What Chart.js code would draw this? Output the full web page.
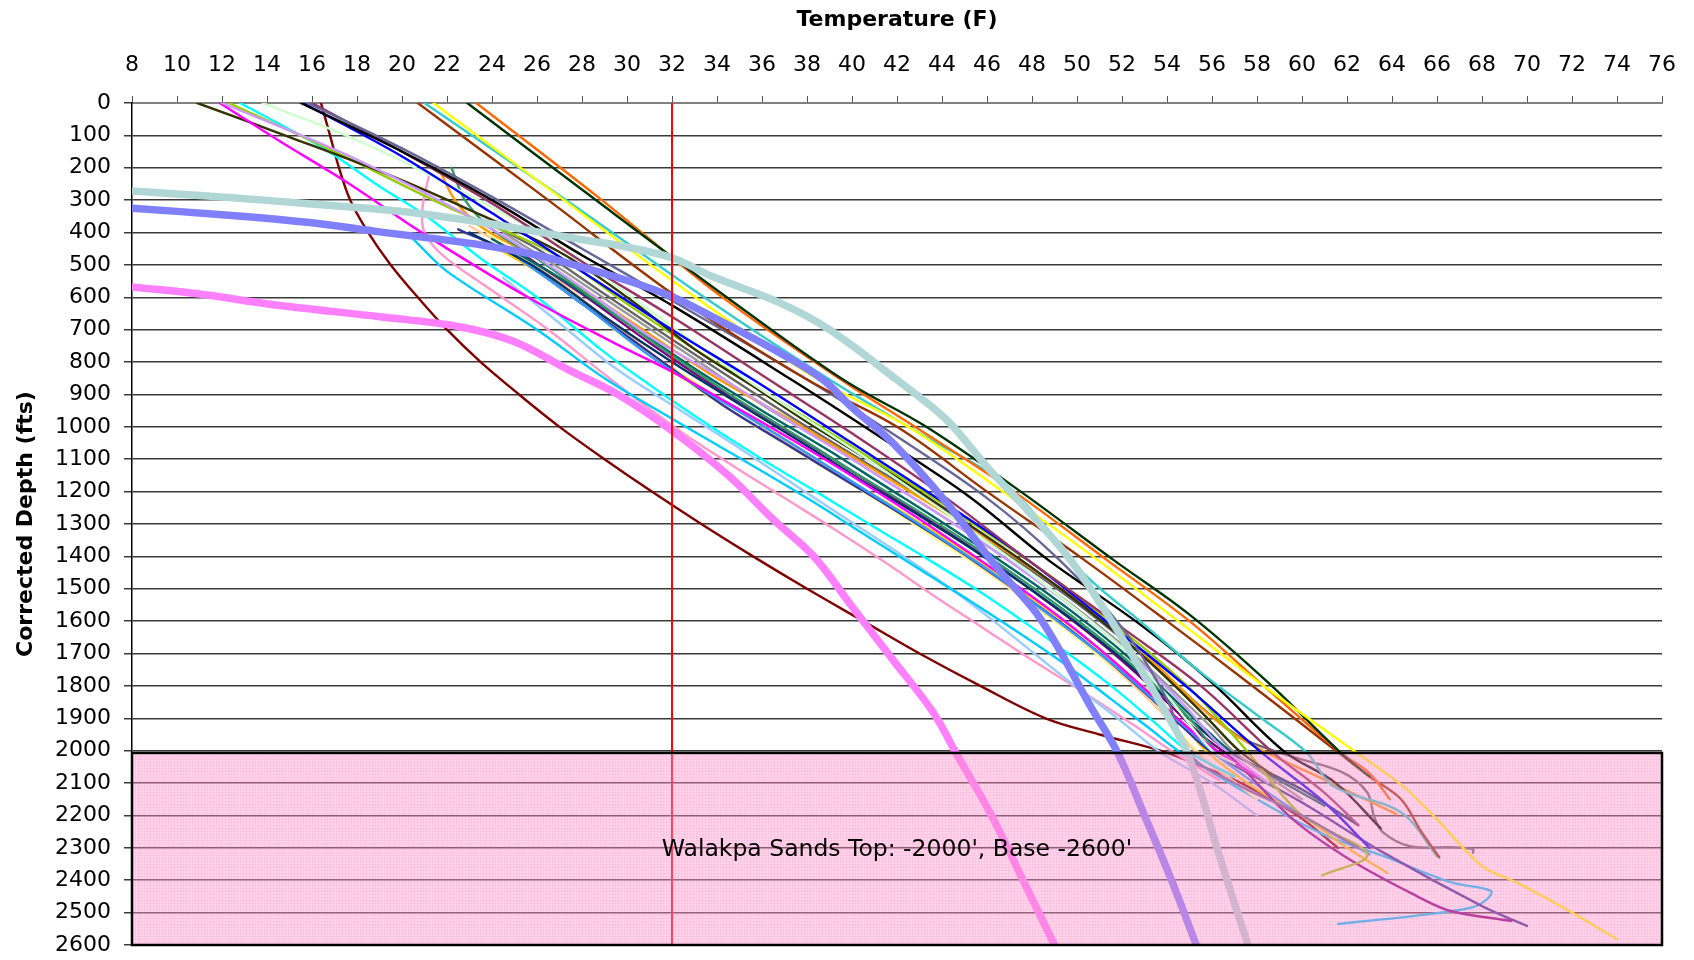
<!DOCTYPE html>
<html>
<head>
<meta charset="utf-8">
<script src="https://cdn.jsdelivr.net/npm/chart.js@4.4.1/dist/chart.umd.min.js"></script>
<style>
html,body{margin:0;padding:0;background:#ffffff;}
#wrap{width:1694px;height:960px;}
</style>
</head>
<body>
<div id="wrap"><canvas id="c" width="1694" height="960"></canvas></div>
<script>
// ---------------- DATA (temperature F, corrected depth ft) ----------------
const tempTicks  = [8,10,12,14,16,18,20,22,24,26,28,30,32,34,36,38,40,42,44,46,48,50,52,54,56,58,60,62,64,66,68,70,72,74,76];
const depthTicks = [0,100,200,300,400,500,600,700,800,900,1000,1100,1200,1300,1400,1500,1600,1700,1800,1900,2000,2100,2200,2300,2400,2500,2600];

const xTitle = 'Temperature (F)';
const yTitle = 'Corrected Depth (fts)';
const sandLabel = "Walakpa Sands Top: -2000', Base -2600'";
const walakpaZone = [2007, 2600];       // depth top / base of shaded sands
const sandLabelAt = [42, 2305];         // temp, depth of the label
const freezingLine = [[32,0],[32,2600]];

// thick logs
const tealThick = [[8,272],[12,290],[16,312],[20,335],[23.5,368],[26.6,405],[28,422],[30,445],[32,478],[33.8,536],[36.8,617],[39,700],[42,855],[44.2,978],[46.1,1132],[47.9,1265],[49.7,1410],[51.4,1585],[53.1,1780],[54.3,1925],[54.9,2005],[55.6,2150],[56.2,2295],[56.9,2450],[57.6,2600]];
const periwinkleThick = [[8,325],[12,345],[16,370],[19,398],[23.5,438],[26,470],[27.9,505],[30,548],[32,598],[33.8,660],[36.8,772],[38.7,854],[40,940],[41.8,1049],[44.2,1234],[46.4,1431],[48.4,1595],[50.6,1863],[51.8,2005],[53,2200],[54.2,2400],[55.3,2600]];
const pinkThick = [[8,568],[11,590],[14.2,622],[19,660],[22.5,690],[25,737],[27.4,824],[29.6,900],[32,1012],[34.5,1150],[36.5,1286],[38.3,1400],[40,1555],[41.8,1718],[43.6,1881],[44.7,2017],[46.2,2200],[47.6,2400],[49,2600]];

// thin logs
const darkRed = [[16.4,0],[16.8,100],[17.2,200],[17.7,300],[18.5,400],[19.5,500],[20.7,600],[22,700],[23.5,800],[25.2,900],[27,1000],[29,1100],[31.1,1200],[33.3,1300],[35.6,1400],[38,1500],[40.5,1600],[43,1700],[45.7,1800],[48.6,1900],[51,1950],[53.7,2000],[55.6,2050],[57.3,2100],[59.8,2200],[61.6,2300]];
const darkOlive = [[10.9,0],[15,105],[19.2,216],[23,330],[27,460],[30,600],[33,760],[35.5,870],[38,985],[40.7,1100],[43.3,1215],[45.8,1330],[48.2,1445],[50.4,1560],[52.4,1675],[54.2,1790],[55.8,1900],[57.2,2000],[58.8,2080]];
const magenta = [[11.9,0],[14.5,115],[17.6,247],[20.9,401],[25.6,600],[29.4,740],[32,830],[36.8,1018],[39.5,1130],[42,1240],[44.4,1350],[46.7,1460],[48.9,1570],[50.9,1680],[52.7,1790],[54.3,1890],[56,1990],[58,2080]];
const lavender = [[12,0],[18,175],[24,390],[28,570],[31,720],[34.3,854],[37.4,990],[40,1100],[42.5,1210],[45,1320],[47.3,1430],[49.5,1540],[51.5,1650],[53.3,1760],[54.9,1870],[56.3,1980],[58.5,2100]];
const oliveGreen = [[12.3,0],[17,150],[22,320],[26.6,460],[30,620],[33,760],[36.5,910],[39.3,1030],[41.8,1140],[44.3,1250],[46.7,1360],[49,1470],[51.1,1580],[53.1,1690],[54.9,1800],[56.4,1910],[57.6,2005],[60,2200],[62.9,2320],[60.9,2385]];
const cyan = [[12.8,0],[16.5,140],[19,258],[21,345],[23.5,480],[26,600],[29,770],[31,870],[33.3,980],[36,1100],[38.4,1200],[41,1310],[43.4,1410],[45.7,1510],[47.8,1610],[49.8,1710],[51.7,1810],[53.4,1910],[55,2005],[57,2080]];
const lightGreen = [[13.8,0],[18,115],[22,250],[27,440],[31,640],[35.3,854],[38.5,1000],[40.7,1100],[42.8,1200],[44.9,1300],[46.9,1400],[48.8,1500],[50.6,1600],[52.3,1700],[54,1830],[56,2000],[57,2040]];
const blue = [[15.6,0],[20,165],[24,340],[28,520],[32,700],[35.6,854],[40,1050],[44,1230],[47.8,1410],[52,1640],[55,1810],[58.1,2000],[61,2160],[63,2300]];
const black = [[15.5,0],[20,150],[24,300],[28,470],[32,625],[37.3,854],[41,1020],[45.2,1215],[48.7,1410],[52.8,1610],[56,1790],[59.2,2002],[61.5,2100],[63.5,2240]];
const grayBlue = [[15.8,0],[20,140],[24,290],[28,450],[32,610],[38,854],[42,1030],[46,1220],[49.2,1410],[52,1620],[54,1841],[55,2010],[57,2100],[60,2200],[62.5,2300]];
const maroon = [[16,0],[20,150],[24,310],[28,490],[32,660],[36.3,854],[40,1020],[44,1210],[47.8,1410],[52,1620],[55.5,1800],[58.7,2005],[61,2130],[62.5,2230]];
const pinkThin = [[21.2,222],[20.9,330],[21,400],[21.8,470],[23.6,560],[26.5,700],[29.4,860],[32.4,1015],[34.7,1120],[37,1220],[39.3,1320],[41.5,1420],[43.6,1520],[45.8,1620],[48,1720],[50.3,1820],[52.5,1920],[54.3,2005],[56.3,2090]];
const lightBlue = [[24.5,540],[27,680],[29.5,820],[32.4,950],[35.2,1075],[37.9,1200],[40.1,1300],[42.3,1400],[44.4,1500],[46.3,1600],[48.1,1700],[49.9,1800],[51.8,1900],[53.7,2005],[56,2100],[58,2200]];
const deepSky = [[20.5,420],[22,520],[26,700],[29,850],[32,975],[34.6,1080],[38,1220],[40.5,1330],[43,1440],[45.3,1540],[47.5,1640],[49.6,1740],[51.5,1840],[53.2,1930],[54.6,2005],[58,2150],[61,2260],[63.6,2325],[66.6,2406],[68.4,2433],[68.2,2460],[67.5,2485],[65,2510],[61.6,2535]];
const lightYellow = [[22.5,330],[24,410],[27,560],[30,730],[33.5,900],[36,1010],[38.6,1120],[41.2,1230],[43.6,1340],[46,1450],[48.2,1560],[50.3,1670],[52.2,1780],[53.9,1890],[55.4,2005],[58,2150]];
const peach = [[23,380],[26,500],[29,660],[32,820],[34,910],[36.5,1020],[39,1130],[41.5,1240],[44,1350],[46.3,1460],[48.5,1570],[50.6,1680],[52.4,1790],[54,1900],[55.3,2005],[57,2100]];
const navy = [[22.5,390],[25,470],[28,620],[31,770],[34.2,930],[37,1050],[39.6,1160],[42.2,1270],[44.7,1380],[47,1490],[49.2,1600],[51.2,1710],[53,1820],[54.6,1920],[56,2005],[60,2160],[63.6,2314],[68,2480],[70,2541]];
const gold = [[23.5,420],[26,520],[29,670],[32,820],[34.5,930],[37.3,1050],[39.8,1160],[42.4,1270],[44.9,1380],[47.2,1490],[49.4,1600],[51.4,1710],[53.2,1820],[54.6,1910],[55.8,2005],[58,2120],[60,2200],[62,2300],[63.8,2378]];
const tealGreen = [[22.2,200],[22.8,300],[24,390],[26,480],[29,630],[32,780],[34.8,910],[37.6,1030],[40.1,1140],[42.7,1250],[45.2,1360],[47.5,1470],[49.7,1580],[51.7,1690],[53.5,1800],[55,1900],[56.3,2005],[59,2120]];
const orange = [[21.6,197],[22.4,305],[23.6,386],[26,480],[29,620],[32,760],[34,850],[36.8,960],[39.5,1070],[42.1,1180],[44.7,1290],[47.2,1400],[49.5,1510],[51.7,1620],[53.6,1740],[55.4,1860],[57,1950],[58.4,2005],[61,2090],[64.2,2196]];
const gray = [[24.5,400],[27,510],[30,650],[33,790],[36.2,940],[39.1,1060],[41.6,1170],[44.1,1280],[46.5,1390],[48.8,1500],[50.9,1610],[52.8,1720],[54.5,1830],[56,1930],[57,2005],[60,2150]];
const darkTeal = [[24,420],[27,540],[30,680],[33,820],[36,950],[38.9,1070],[41.4,1180],[43.9,1290],[46.3,1400],[48.6,1510],[50.7,1620],[52.6,1730],[54.3,1840],[55.8,1940],[57,2010],[61,2170]];
const purple = [[25,450],[28,590],[31,740],[34,880],[35.9,960],[38.7,1080],[41.2,1190],[43.7,1300],[46.1,1410],[48.3,1520],[50.4,1630],[52.3,1740],[54,1850],[55.5,1950],[57,2030],[59.6,2212],[62.1,2335],[65.1,2449],[66.6,2495],[69.3,2526]];
const sky = [[25,470],[28,620],[31,780],[33,870],[35.4,970],[38.2,1090],[40.7,1200],[43.2,1310],[45.6,1420],[47.8,1530],[49.9,1640],[51.9,1750],[53.7,1860],[55.2,1950],[56.5,2030],[60,2200],[63,2320]];
const grayWiggle = [[23.5,360],[26,450],[29,590],[32,730],[35.3,880],[38,1000],[40.6,1110],[43.2,1220],[45.6,1330],[47.9,1440],[50.1,1550],[52.1,1660],[54,1770],[55.6,1870],[57.3,1960],[59.5,2017],[61.8,2067],[62.9,2129],[63.2,2202],[63.6,2252],[64.8,2295],[66.6,2298],[67.6,2304],[67.6,2315]];
const darkNavy = [[23,400],[26,510],[29,660],[32,800],[35,930],[37.8,1050],[40.3,1160],[42.9,1270],[45.4,1380],[47.7,1490],[49.9,1600],[51.9,1710],[53.7,1820],[55.3,1920],[56.8,2005],[60,2120],[62.5,2230]];
const brown = [[20.7,0],[26.5,300],[32.2,598],[38,854],[42,1000],[46,1200],[50.3,1410],[54,1600],[57.8,1800],[61.6,2005],[63,2080],[64.4,2150],[65.3,2250],[66.1,2329]];
const yellow = [[21.4,0],[27.2,300],[33,598],[38.5,854],[42.5,1000],[46.7,1200],[50.9,1410],[54.5,1600],[58.3,1800],[62.4,2005],[64.5,2110],[66,2212],[68,2356],[69.5,2406],[71.5,2480],[74,2582]];
const teal = [[21,0],[27.3,300],[33.4,598],[39,854],[43,1020],[46.7,1170],[48.5,1300],[50.3,1453],[52.8,1600],[55.5,1758],[58,1890],[60.2,2005],[61.4,2110],[64.4,2190],[66,2326]];
const darkGreen = [[22.9,0],[28.6,299],[34.4,598],[39.6,854],[43.3,1000],[47.5,1200],[51.6,1410],[55,1580],[58.5,1790],[61.7,2005],[63,2080]];
const orangeRed = [[23.3,0],[28.7,290],[34.2,598],[39.5,854],[42.8,1000],[47.2,1200],[51.3,1410],[55,1600],[58.3,1800],[61.7,2005],[63,2070],[63.9,2150]];

// ---------------- STYLES ----------------
const series = [
  {pts: freezingLine,    color:'#FF0000', w:2,   t:0},
  {pts: tealThick,       color:'#B0D6D6', w:7.5},
  {pts: periwinkleThick, color:'#8080FF', w:7.5},
  {pts: pinkThick,       color:'#FF80FF', w:7.5},
  {pts: yellow,      color:'#FFFF00', w:2.4},
  {pts: darkGreen,   color:'#003300', w:2.4},
  {pts: orangeRed,   color:'#FF6600', w:2.4},
  {pts: brown,       color:'#993300', w:2.4},
  {pts: teal,        color:'#33CCCC', w:2.4},
  {pts: black,       color:'#000000', w:2.4},
  {pts: grayBlue,    color:'#666699', w:2.4},
  {pts: maroon,      color:'#993366', w:2.4},
  {pts: blue,        color:'#0000FF', w:2.4},
  {pts: lightGreen,  color:'#CCFFCC', w:2.4},
  {pts: lavender,    color:'#CC99FF', w:2.4},
  {pts: magenta,     color:'#FF00FF', w:2.4},
  {pts: darkOlive,   color:'#333300', w:2.4},
  {pts: oliveGreen,  color:'#99CC00', w:2.4},
  {pts: cyan,        color:'#00FFFF', w:2.4},
  {pts: tealGreen,   color:'#339966', w:2.4},
  {pts: orange,      color:'#FF9900', w:2.4},
  {pts: gray,        color:'#999999', w:2.4},
  {pts: darkTeal,    color:'#006666', w:2.4},
  {pts: darkNavy,    color:'#003366', w:2.4},
  {pts: purple,      color:'#800080', w:2.4},
  {pts: sky,         color:'#3399FF', w:2.4},
  {pts: grayWiggle,  color:'#666666', w:2.4},
  {pts: navy,        color:'#333399', w:2.4},
  {pts: gold,        color:'#FFCC00', w:2.4},
  {pts: peach,       color:'#FFCC99', w:2.4},
  {pts: lightYellow, color:'#FFFF99', w:2.4},
  {pts: deepSky,     color:'#00CCFF', w:2.4},
  {pts: lightBlue,   color:'#99CCFF', w:2.4},
  {pts: pinkThin,    color:'#FF99CC', w:2.4},
  {pts: darkRed,     color:'#800000', w:2.4}
];

const datasets = series.map(s => ({
  data: s.pts.map(p => ({x:p[0], y:p[1]})),
  showLine: true,
  borderColor: s.color,
  backgroundColor: s.color,
  borderWidth: s.w,
  pointRadius: 0,
  fill: false,
  tension: (s.t === undefined ? 0.35 : s.t),
  borderCapStyle: 'round',
  borderJoinStyle: 'round'
}));

// pattern for the sands zone
const pc = document.createElement('canvas');
pc.width = 3; pc.height = 3;
const pcx = pc.getContext('2d');
pcx.fillStyle = 'rgba(255,150,205,0.40)';
pcx.fillRect(0,0,3,3);
pcx.fillStyle = 'rgba(255,105,180,0.16)';
pcx.fillRect(0,0,3,1);
pcx.fillRect(0,1,1,2);

const overlay = {
  id: 'overlay',
  afterDatasetsDraw(chart) {
    const ctx = chart.ctx, xs = chart.scales.x, ys = chart.scales.y, a = chart.chartArea;
    const top = ys.getPixelForValue(walakpaZone[0]);
    const bot = ys.getPixelForValue(walakpaZone[1]);
    ctx.save();
    ctx.fillStyle = ctx.createPattern(pc, 'repeat');
    ctx.fillRect(a.left, top, a.right - a.left, bot - top);
    ctx.strokeStyle = '#000';
    ctx.lineWidth = 2.5;
    ctx.strokeRect(a.left, top, a.right - a.left, bot - top);
    ctx.fillStyle = '#000';
    ctx.font = '23.5px "DejaVu Sans"';
    ctx.textAlign = 'center';
    ctx.textBaseline = 'middle';
    ctx.fillText(sandLabel, xs.getPixelForValue(sandLabelAt[0]), ys.getPixelForValue(sandLabelAt[1]));
    ctx.restore();
  },
  afterDraw(chart) {
    const ctx = chart.ctx, a = chart.chartArea;
    ctx.save();
    ctx.fillStyle = '#000';
    ctx.font = 'bold 22px "DejaVu Sans"';
    ctx.textAlign = 'center';
    ctx.textBaseline = 'middle';
    ctx.fillText(xTitle, (a.left + a.right) / 2, 20);
    ctx.translate(26, (a.top + a.bottom) / 2);
    ctx.rotate(-Math.PI / 2);
    ctx.fillText(yTitle, 0, 0);
    ctx.restore();
  }
};

new Chart(document.getElementById('c'), {
  type: 'scatter',
  data: { datasets },
  plugins: [overlay],
  options: {
    responsive: false,
    animation: false,
    devicePixelRatio: 1,
    layout: { padding: { left: 0, right: 32, top: 0, bottom: 15 } },
    plugins: { legend: { display: false }, tooltip: { enabled: false } },
    scales: {
      x: {
        type: 'linear', position: 'top', min: 8, max: 76,
        afterBuildTicks: s => { s.ticks = tempTicks.map(v => ({ value: v })); },
        afterFit: s => { s.height = 103; s.paddingLeft = 0; s.paddingRight = 0; },
        grid: { drawOnChartArea: false, drawTicks: true, tickLength: 7, color: '#555', lineWidth: 1 },
        border: { display: true, color: '#808080', width: 2 },
        ticks: { color: '#000', font: { family: 'DejaVu Sans', size: 22 }, padding: 18, maxRotation: 0, autoSkip: false, callback: v => String(v) }
      },
      y: {
        type: 'linear', reverse: true, min: 0, max: 2600,
        afterBuildTicks: s => { s.ticks = depthTicks.map(v => ({ value: v })); },
        afterFit: s => { s.width = 132; s.paddingTop = 0; s.paddingBottom = 0; },
        grid: { color: '#3a3a3a', lineWidth: 1.5, tickLength: 8, drawTicks: true },
        border: { display: true, color: '#000', width: 1.5 },
        ticks: { color: '#000', font: { family: 'DejaVu Sans', size: 22 }, padding: 13, autoSkip: false, callback: v => String(v) }
      }
    }
  }
});
</script>
</body>
</html>
